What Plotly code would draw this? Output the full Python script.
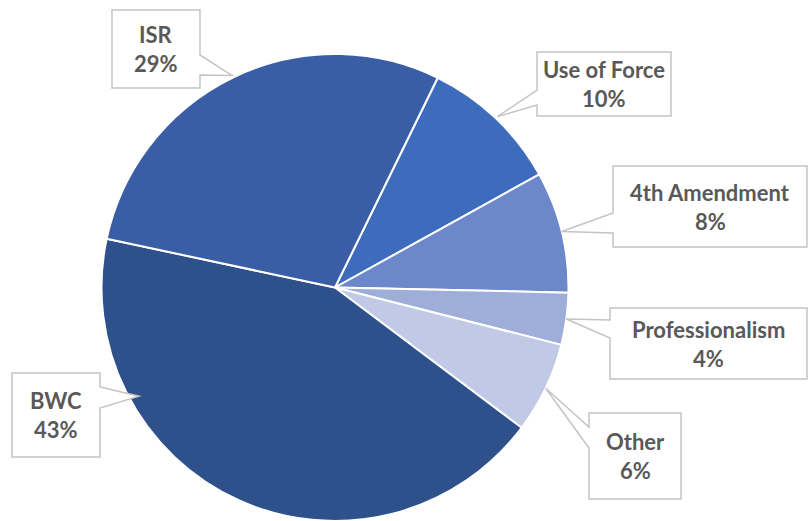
import math
import plotly.graph_objects as go

# ---- data ----
labels = ["Use of Force", "4th Amendment", "Professionalism", "Other", "BWC", "ISR"]
values = [9.7, 8.4, 3.6, 6.3, 43.1, 28.9]
colors = ["#3d6cbd", "#6d88ca", "#9eaed9", "#c0cae6", "#2e518c", "#3a5ea6"]

W, H = 808, 521
start_angle = 26.1  # degrees clockwise from 12 o'clock

# pie placement (pixels)
top_px = 54
r_px = (H - top_px) / 2
cx_px = 335
cy_px = top_px + r_px

def px(x):
    return x / W

def py(y):
    return 1 - y / H

fig = go.Figure(go.Pie(
    labels=labels, values=values, sort=False, direction="clockwise",
    rotation=start_angle,
    marker=dict(colors=colors, line=dict(color="white", width=2)),
    textinfo="none", hoverinfo="label+percent", showlegend=False,
    domain=dict(x=[px(cx_px - r_px), px(cx_px + r_px)], y=[0, py(top_px)]),
))

# callout boxes: (x0, x1, y0, y1, side, pointer y0, pointer y1, tip angle override, tip radius factor)
boxes = {
    "ISR": (112, 200, 10, 88, "right", 55, 75, None, 1.01),
    "Use of Force": (537, 671, 52, 116, "left", 90, 105, None, 1.01),
    "4th Amendment": (613, 807, 166, 247, "left", 213, 233, None, 1.0),
    "Professionalism": (610, 807, 308, 379, "left", 320, 338, None, 1.0),
    "Other": (589, 681, 413, 499, "left", 427, 448, None, 1.0),
    "BWC": (12, 100, 373, 457, "right", 387, 408, 241.0, 0.96),
}

total = sum(values)
cum = start_angle
shapes = []
annotations = []
for lab, v in zip(labels, values):
    span = v / total * 360
    mid = cum + span / 2
    cum += span
    x0, x1, y0, y1, side, p0, p1, ang, rf = boxes[lab]
    a = math.radians(ang if ang is not None else mid)
    tx = cx_px + rf * r_px * math.sin(a)
    ty = cy_px - rf * r_px * math.cos(a)
    if side == "right":
        pts = [(x0, y0), (x1, y0), (x1, p0), (tx, ty), (x1, p1), (x1, y1), (x0, y1)]
    else:
        pts = [(x0, y0), (x1, y0), (x1, y1), (x0, y1), (x0, p1), (tx, ty), (x0, p0)]
    path = "M " + " L ".join(f"{px(x):.5f},{py(y):.5f}" for x, y in pts) + " Z"
    shapes.append(dict(type="path", xref="paper", yref="paper", path=path,
                       fillcolor="white", line=dict(color="#c4c4c4", width=1.5)))
    xc = (x0 + x1) / 2
    yc = (y0 + y1) / 2
    pct = f"{round(v / total * 100)}%"
    for txt, dy in ((lab, -14.5), (pct, 14.5)):
        annotations.append(dict(x=px(xc), y=py(yc + dy), xref="paper", yref="paper",
                                text=f"<b>{txt}</b>", showarrow=False,
                                xanchor="center", yanchor="middle",
                                font=dict(family="Lato", size=22, color="#595959")))

fig.update_layout(
    width=W, height=H,
    margin=dict(l=0, r=0, t=0, b=0),
    paper_bgcolor="white", plot_bgcolor="white",
    shapes=shapes, annotations=annotations,
)

fig.write_html("out.html", config={"displayModeBar": False},
               post_script="document.body.style.margin='0';")
